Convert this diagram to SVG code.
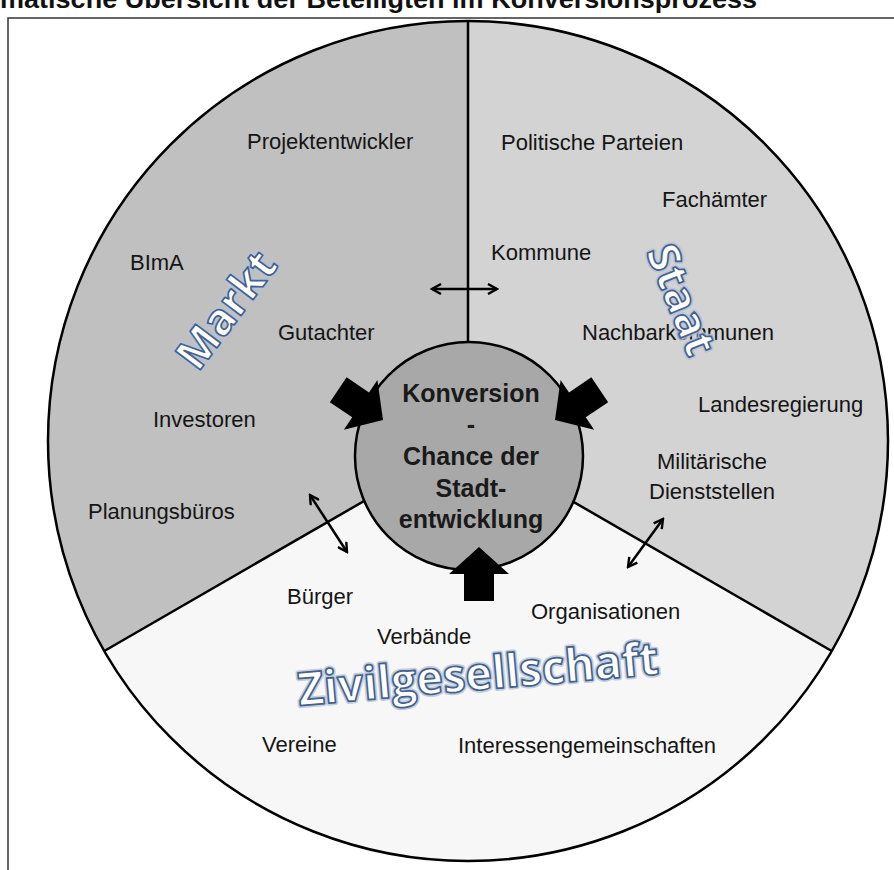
<svg xmlns="http://www.w3.org/2000/svg" xmlns:xlink="http://www.w3.org/1999/xlink" width="894" height="870" viewBox="0 0 894 870">
<style>
.lbl{font-family:"Liberation Sans",Arial,sans-serif;font-size:22px;fill:#151515}
.ctr{font-family:"Liberation Sans",Arial,sans-serif;font-size:25px;font-weight:bold;fill:#1a1a1a;text-anchor:middle}
.deco{font-family:"Open Sans","Liberation Sans",sans-serif;font-weight:bold;text-anchor:middle;dominant-baseline:central}
.glow{fill:none;stroke:#b4c4dc;stroke-width:5;stroke-linejoin:round;opacity:.8}
.face{fill:#ffffff;stroke:#46628c;stroke-width:1.7;stroke-linejoin:round}
.sec{stroke:none}
.edge{fill:none;stroke:#000;stroke-width:2.5}
.dbl{fill:none;stroke:#000;stroke-width:2.5;marker-start:url(#chev);marker-end:url(#chev)}
</style>
<defs>
<marker id="chev" viewBox="0 0 12 12" refX="10" refY="6" markerWidth="12" markerHeight="12" markerUnits="userSpaceOnUse" orient="auto-start-reverse">
<path d="M1,1 L10,6 L1,11" fill="none" stroke="#000" stroke-width="2.4"/>
</marker>
<path id="blk" d="M0,0 L-27,-30 L-27,-15 L-54,-15 L-54,15 L-27,15 L-27,30 Z" fill="#000"/>
</defs>
<rect width="894" height="870" fill="#fff"/>
<text x="0" y="8" font-family="Liberation Sans,Arial,sans-serif" font-size="26" font-weight="bold" fill="#111" textLength="757" lengthAdjust="spacingAndGlyphs">matische Übersicht der Beteiligten im Konversionsprozess</text>
<rect x="8" y="18" width="900" height="870" fill="#fff" stroke="#333" stroke-width="1.5"/>

<g id="sector-markt">
<path class="sec" fill="#c0c0c0" d="M468,441 L468,21 A420,420 0 0 0 104.3,651 Z"/>
</g>
<g id="sector-staat">
<path class="sec" fill="#d3d3d3" d="M468,441 L468,21 A420,420 0 0 1 831.7,651 Z"/>
</g>
<g id="sector-zivil">
<path class="sec" fill="#f7f7f7" d="M468,441 L104.3,651 A420,420 0 0 0 831.7,651 Z"/>
</g>
<g id="outline">
<circle class="edge" cx="468" cy="441" r="420"/>
<line class="edge" x1="468" y1="21" x2="468" y2="441"/>
<line class="edge" x1="468" y1="441" x2="104.3" y2="651"/>
<line class="edge" x1="468" y1="441" x2="831.7" y2="651"/>
</g>

<g id="labels-markt">
<text class="lbl" x="247" y="149">Projektentwickler</text>
<text class="lbl" x="130" y="270">BImA</text>
<text class="lbl" x="278" y="340">Gutachter</text>
<text class="lbl" x="153" y="427">Investoren</text>
<text class="lbl" x="88" y="519">Planungsbüros</text>
</g>
<g id="labels-staat">
<text class="lbl" x="501" y="150">Politische Parteien</text>
<text class="lbl" x="662" y="207">Fachämter</text>
<text class="lbl" x="491" y="260">Kommune</text>
<text class="lbl" x="582" y="340">Nachbarkommunen</text>
<text class="lbl" x="698" y="412">Landesregierung</text>
<text class="lbl" x="712" y="469" text-anchor="middle">Militärische</text>
<text class="lbl" x="712" y="499" text-anchor="middle">Dienststellen</text>
</g>
<g id="labels-zivil">
<text class="lbl" x="287" y="604">Bürger</text>
<text class="lbl" x="531" y="619">Organisationen</text>
<text class="lbl" x="377" y="644">Verbände</text>
<text class="lbl" x="262" y="752">Vereine</text>
<text class="lbl" x="458" y="753">Interessengemeinschaften</text>
</g>

<g id="title-markt" class="deco" font-size="44" transform="translate(225,309) rotate(-53)">
<text class="glow">Markt</text>
<text class="face">Markt</text>
</g>
<g id="title-staat" class="deco" font-size="44" transform="translate(683,299) rotate(68)">
<text class="glow">Staat</text>
<text class="face">Staat</text>
</g>
<g id="title-zivil" class="deco" font-size="46" transform="translate(478,672) rotate(-5)">
<text class="glow" textLength="362" lengthAdjust="spacingAndGlyphs">Zivilgesellschaft</text>
<text class="face" textLength="362" lengthAdjust="spacingAndGlyphs">Zivilgesellschaft</text>
</g>

<g id="connectors">
<line class="dbl" x1="432" y1="289" x2="497" y2="289"/>
<line class="dbl" x1="310" y1="495" x2="347" y2="552"/>
<line class="dbl" x1="663" y1="519" x2="628" y2="567"/>
</g>

<g id="center">
<circle cx="469" cy="456" r="114" fill="#a8a8a8" stroke="#000" stroke-width="2.5"/>
<text class="ctr" x="471" y="402">Konversion</text>
<text class="ctr" x="471" y="433">-</text>
<text class="ctr" x="471" y="465">Chance der</text>
<text class="ctr" x="471" y="497">Stadt-</text>
<text class="ctr" x="471" y="528">entwicklung</text>
</g>
<g id="block-arrows">
<use xlink:href="#blk" transform="translate(383,420) rotate(34)"/>
<use xlink:href="#blk" transform="translate(555,420) rotate(146)"/>
<use xlink:href="#blk" transform="translate(479,547) rotate(-90)"/>
</g>
</svg>
